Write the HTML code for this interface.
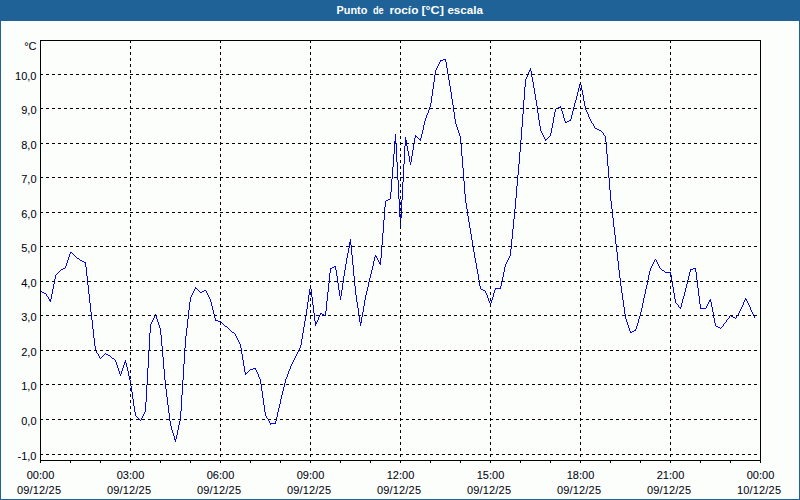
<!DOCTYPE html>
<html><head><meta charset="utf-8"><title>Punto de rocío</title>
<style>
html,body{margin:0;padding:0;}
body{width:800px;height:500px;overflow:hidden;background:#1E6298;font-family:"Liberation Sans",sans-serif;}
#panel{position:absolute;left:1px;top:21px;width:798px;height:478px;background:#FCFEFB;}
svg{position:absolute;left:0;top:0;}
text{font-family:"Liberation Sans",sans-serif;font-size:11px;fill:#000010;stroke:#000010;stroke-width:0.05px;}
.t{font-weight:bold;fill:#fff;stroke:none;}
</style></head><body>
<div id="panel"></div>
<svg width="800" height="500" viewBox="0 0 800 500">
<text class="t" x="336.6" y="14" textLength="30.8" lengthAdjust="spacingAndGlyphs">Punto</text>
<text class="t" x="372.9" y="14" textLength="10.7" lengthAdjust="spacingAndGlyphs">de</text>
<text class="t" x="389.4" y="14" textLength="29" lengthAdjust="spacingAndGlyphs">rocío</text>
<text class="t" x="421.4" y="14" textLength="22.5" lengthAdjust="spacingAndGlyphs">[°C]</text>
<text class="t" x="447.4" y="14" textLength="35.5" lengthAdjust="spacingAndGlyphs">escala</text>
<path d="M40 291h1v1h-1zM41 291h1v1h-1zM42 292h1v1h-1zM43 292h1v1h-1zM44 293h1v1h-1zM45 293h1v1h-1zM46 294h1v2h-1zM47 296h1v1h-1zM48 297h1v2h-1zM49 299h1v2h-1zM50 299h1v3h-1zM51 294h1v5h-1zM52 289h1v5h-1zM53 284h1v5h-1zM54 279h1v5h-1zM55 275h1v4h-1zM56 274h1v1h-1zM57 273h1v1h-1zM58 272h1v1h-1zM59 271h1v1h-1zM60 270h1v1h-1zM61 269h1v1h-1zM62 269h1v1h-1zM63 268h1v1h-1zM64 268h1v1h-1zM65 266h1v2h-1zM66 263h1v3h-1zM67 260h1v3h-1zM68 257h1v3h-1zM69 254h1v3h-1zM70 252h1v2h-1zM71 252h1v1h-1zM72 253h1v1h-1zM73 254h1v1h-1zM74 255h1v1h-1zM75 256h1v1h-1zM76 257h1v1h-1zM77 258h1v1h-1zM78 258h1v1h-1zM79 259h1v1h-1zM80 260h1v1h-1zM81 260h1v1h-1zM82 261h1v1h-1zM83 261h1v1h-1zM84 262h1v1h-1zM85 262h1v5h-1zM86 267h1v9h-1zM87 276h1v9h-1zM88 285h1v9h-1zM89 294h1v9h-1zM90 303h1v9h-1zM91 312h1v8h-1zM92 320h1v9h-1zM93 329h1v9h-1zM94 338h1v8h-1zM95 346h1v5h-1zM96 351h1v2h-1zM97 353h1v1h-1zM98 354h1v2h-1zM99 356h1v2h-1zM100 358h1v1h-1zM101 357h1v1h-1zM102 356h1v1h-1zM103 355h1v1h-1zM104 354h1v1h-1zM105 353h1v1h-1zM106 354h1v1h-1zM107 354h1v1h-1zM108 355h1v1h-1zM109 355h1v1h-1zM110 356h1v1h-1zM111 357h1v1h-1zM112 358h1v1h-1zM113 358h1v1h-1zM114 359h1v1h-1zM115 360h1v2h-1zM116 362h1v3h-1zM117 365h1v3h-1zM118 368h1v3h-1zM119 371h1v3h-1zM120 374h1v2h-1zM121 371h1v3h-1zM122 368h1v3h-1zM123 365h1v3h-1zM124 362h1v3h-1zM125 360h1v3h-1zM126 363h1v4h-1zM127 367h1v4h-1zM128 371h1v5h-1zM129 376h1v4h-1zM130 380h1v6h-1zM131 386h1v6h-1zM132 392h1v7h-1zM133 399h1v7h-1zM134 406h1v6h-1zM135 412h1v4h-1zM136 416h1v1h-1zM137 417h1v1h-1zM138 418h1v1h-1zM139 419h1v1h-1zM140 420h1v1h-1zM141 418h1v2h-1zM142 416h1v2h-1zM143 414h1v2h-1zM144 412h1v2h-1zM145 402h1v10h-1zM146 385h1v17h-1zM147 368h1v17h-1zM148 350h1v18h-1zM149 333h1v17h-1zM150 324h1v9h-1zM151 322h1v2h-1zM152 320h1v2h-1zM153 318h1v2h-1zM154 316h1v2h-1zM155 314h1v2h-1zM156 316h1v3h-1zM157 319h1v3h-1zM158 322h1v3h-1zM159 325h1v3h-1zM160 328h1v7h-1zM161 335h1v11h-1zM162 346h1v11h-1zM163 357h1v12h-1zM164 369h1v11h-1zM165 380h1v9h-1zM166 389h1v8h-1zM167 397h1v8h-1zM168 405h1v8h-1zM169 413h1v8h-1zM170 421h1v5h-1zM171 426h1v4h-1zM172 430h1v3h-1zM173 433h1v3h-1zM174 436h1v4h-1zM175 439h1v3h-1zM176 435h1v4h-1zM177 430h1v5h-1zM178 425h1v5h-1zM179 421h1v4h-1zM180 411h1v10h-1zM181 395h1v16h-1zM182 380h1v15h-1zM183 364h1v16h-1zM184 348h1v16h-1zM185 336h1v12h-1zM186 328h1v8h-1zM187 319h1v9h-1zM188 310h1v9h-1zM189 302h1v8h-1zM190 297h1v5h-1zM191 295h1v2h-1zM192 293h1v2h-1zM193 291h1v2h-1zM194 289h1v2h-1zM195 287h1v2h-1zM196 288h1v1h-1zM197 289h1v1h-1zM198 290h1v1h-1zM199 291h1v1h-1zM200 292h1v1h-1zM201 292h1v1h-1zM202 291h1v1h-1zM203 291h1v1h-1zM204 290h1v1h-1zM205 290h1v1h-1zM206 291h1v2h-1zM207 293h1v2h-1zM208 295h1v2h-1zM209 297h1v2h-1zM210 299h1v3h-1zM211 302h1v4h-1zM212 306h1v4h-1zM213 310h1v4h-1zM214 314h1v4h-1zM215 318h1v3h-1zM216 320h1v1h-1zM217 320h1v1h-1zM218 321h1v1h-1zM219 321h1v1h-1zM220 321h1v1h-1zM221 322h1v1h-1zM222 323h1v1h-1zM223 324h1v1h-1zM224 325h1v1h-1zM225 326h1v1h-1zM226 326h1v1h-1zM227 327h1v1h-1zM228 328h1v1h-1zM229 329h1v1h-1zM230 330h1v1h-1zM231 331h1v1h-1zM232 332h1v1h-1zM233 332h1v1h-1zM234 333h1v1h-1zM235 334h1v2h-1zM236 336h1v2h-1zM237 338h1v2h-1zM238 340h1v2h-1zM239 342h1v2h-1zM240 344h1v4h-1zM241 348h1v6h-1zM242 354h1v6h-1zM243 360h1v6h-1zM244 366h1v6h-1zM245 372h1v3h-1zM246 373h1v1h-1zM247 372h1v1h-1zM248 371h1v1h-1zM249 370h1v1h-1zM250 369h1v1h-1zM251 369h1v1h-1zM252 369h1v1h-1zM253 368h1v1h-1zM254 368h1v1h-1zM255 368h1v2h-1zM256 370h1v2h-1zM257 372h1v2h-1zM258 374h1v3h-1zM259 377h1v2h-1zM260 379h1v5h-1zM261 384h1v7h-1zM262 391h1v7h-1zM263 398h1v7h-1zM264 405h1v7h-1zM265 412h1v4h-1zM266 416h1v2h-1zM267 418h1v1h-1zM268 419h1v2h-1zM269 421h1v2h-1zM270 423h1v2h-1zM271 423h1v1h-1zM272 423h1v1h-1zM273 423h1v1h-1zM274 423h1v1h-1zM275 421h1v3h-1zM276 417h1v4h-1zM277 412h1v5h-1zM278 408h1v4h-1zM279 404h1v4h-1zM280 399h1v5h-1zM281 395h1v4h-1zM282 391h1v4h-1zM283 387h1v4h-1zM284 383h1v4h-1zM285 379h1v4h-1zM286 377h1v2h-1zM287 374h1v3h-1zM288 371h1v3h-1zM289 369h1v2h-1zM290 366h1v3h-1zM291 364h1v2h-1zM292 362h1v2h-1zM293 360h1v2h-1zM294 358h1v2h-1zM295 356h1v2h-1zM296 354h1v2h-1zM297 352h1v2h-1zM298 350h1v2h-1zM299 348h1v2h-1zM300 345h1v3h-1zM301 339h1v6h-1zM302 333h1v6h-1zM303 327h1v6h-1zM304 321h1v6h-1zM305 315h1v6h-1zM306 309h1v6h-1zM307 302h1v7h-1zM308 295h1v7h-1zM309 289h1v6h-1zM310 285h1v4h-1zM311 289h1v8h-1zM312 297h1v8h-1zM313 305h1v8h-1zM314 313h1v8h-1zM315 321h1v5h-1zM316 322h1v2h-1zM317 320h1v2h-1zM318 317h1v3h-1zM319 315h1v2h-1zM320 313h1v2h-1zM321 313h1v1h-1zM322 314h1v1h-1zM323 314h1v1h-1zM324 315h1v1h-1zM325 311h1v5h-1zM326 301h1v10h-1zM327 292h1v9h-1zM328 283h1v9h-1zM329 273h1v10h-1zM330 268h1v5h-1zM331 268h1v1h-1zM332 267h1v1h-1zM333 267h1v1h-1zM334 266h1v1h-1zM335 266h1v4h-1zM336 270h1v6h-1zM337 276h1v7h-1zM338 283h1v7h-1zM339 290h1v6h-1zM340 296h1v4h-1zM341 290h1v6h-1zM342 283h1v7h-1zM343 276h1v7h-1zM344 270h1v6h-1zM345 264h1v6h-1zM346 258h1v6h-1zM347 253h1v5h-1zM348 248h1v5h-1zM349 242h1v6h-1zM350 239h1v6h-1zM351 245h1v10h-1zM352 255h1v10h-1zM353 265h1v11h-1zM354 276h1v10h-1zM355 286h1v9h-1zM356 295h1v7h-1zM357 302h1v6h-1zM358 308h1v7h-1zM359 315h1v7h-1zM360 322h1v4h-1zM361 317h1v6h-1zM362 312h1v5h-1zM363 306h1v6h-1zM364 300h1v6h-1zM365 295h1v5h-1zM366 291h1v4h-1zM367 287h1v4h-1zM368 282h1v5h-1zM369 278h1v4h-1zM370 274h1v4h-1zM371 270h1v4h-1zM372 266h1v4h-1zM373 261h1v5h-1zM374 257h1v4h-1zM375 255h1v2h-1zM376 256h1v2h-1zM377 258h1v2h-1zM378 260h1v2h-1zM379 262h1v2h-1zM380 258h1v7h-1zM381 245h1v13h-1zM382 233h1v12h-1zM383 220h1v13h-1zM384 207h1v13h-1zM385 201h1v6h-1zM386 200h1v1h-1zM387 200h1v1h-1zM388 199h1v1h-1zM389 199h1v1h-1zM390 192h1v7h-1zM391 179h1v13h-1zM392 167h1v12h-1zM393 154h1v13h-1zM394 141h1v13h-1zM395 134h1v10h-1zM396 144h1v18h-1zM397 162h1v18h-1zM398 180h1v19h-1zM399 199h1v18h-1zM400 217h1v10h-1zM401 200h1v18h-1zM402 182h1v18h-1zM403 164h1v18h-1zM404 146h1v18h-1zM405 137h1v9h-1zM406 140h1v6h-1zM407 146h1v5h-1zM408 151h1v5h-1zM409 156h1v6h-1zM410 162h1v3h-1zM411 156h1v6h-1zM412 150h1v6h-1zM413 144h1v6h-1zM414 138h1v6h-1zM415 135h1v3h-1zM416 136h1v1h-1zM417 137h1v1h-1zM418 138h1v1h-1zM419 139h1v1h-1zM420 138h1v3h-1zM421 134h1v4h-1zM422 130h1v4h-1zM423 125h1v5h-1zM424 121h1v4h-1zM425 118h1v3h-1zM426 115h1v3h-1zM427 113h1v2h-1zM428 110h1v3h-1zM429 107h1v3h-1zM430 103h1v4h-1zM431 96h1v7h-1zM432 89h1v7h-1zM433 82h1v7h-1zM434 75h1v7h-1zM435 70h1v5h-1zM436 68h1v2h-1zM437 66h1v2h-1zM438 64h1v2h-1zM439 62h1v2h-1zM440 60h1v2h-1zM441 60h1v1h-1zM442 60h1v1h-1zM443 59h1v1h-1zM444 59h1v1h-1zM445 59h1v3h-1zM446 62h1v6h-1zM447 68h1v6h-1zM448 74h1v6h-1zM449 80h1v6h-1zM450 86h1v6h-1zM451 92h1v7h-1zM452 99h1v6h-1zM453 105h1v7h-1zM454 112h1v7h-1zM455 119h1v5h-1zM456 124h1v3h-1zM457 127h1v3h-1zM458 130h1v3h-1zM459 133h1v3h-1zM460 136h1v7h-1zM461 143h1v13h-1zM462 156h1v12h-1zM463 168h1v13h-1zM464 181h1v13h-1zM465 194h1v9h-1zM466 203h1v6h-1zM467 209h1v7h-1zM468 216h1v6h-1zM469 222h1v6h-1zM470 228h1v6h-1zM471 234h1v6h-1zM472 240h1v6h-1zM473 246h1v6h-1zM474 252h1v6h-1zM475 258h1v5h-1zM476 263h1v6h-1zM477 269h1v5h-1zM478 274h1v6h-1zM479 280h1v6h-1zM480 286h1v3h-1zM481 289h1v1h-1zM482 289h1v1h-1zM483 290h1v1h-1zM484 290h1v1h-1zM485 291h1v2h-1zM486 293h1v2h-1zM487 295h1v3h-1zM488 298h1v3h-1zM489 301h1v2h-1zM490 303h1v2h-1zM491 300h1v3h-1zM492 297h1v3h-1zM493 293h1v4h-1zM494 290h1v3h-1zM495 288h1v2h-1zM496 288h1v1h-1zM497 288h1v1h-1zM498 288h1v1h-1zM499 288h1v1h-1zM500 286h1v3h-1zM501 281h1v5h-1zM502 277h1v4h-1zM503 272h1v5h-1zM504 267h1v5h-1zM505 264h1v3h-1zM506 262h1v2h-1zM507 260h1v2h-1zM508 258h1v2h-1zM509 256h1v2h-1zM510 249h1v7h-1zM511 239h1v10h-1zM512 229h1v10h-1zM513 219h1v10h-1zM514 209h1v10h-1zM515 198h1v11h-1zM516 186h1v12h-1zM517 175h1v11h-1zM518 164h1v11h-1zM519 152h1v12h-1zM520 140h1v12h-1zM521 127h1v13h-1zM522 114h1v13h-1zM523 100h1v14h-1zM524 87h1v13h-1zM525 79h1v8h-1zM526 77h1v2h-1zM527 75h1v2h-1zM528 72h1v3h-1zM529 70h1v2h-1zM530 68h1v3h-1zM531 71h1v6h-1zM532 77h1v5h-1zM533 82h1v6h-1zM534 88h1v6h-1zM535 94h1v6h-1zM536 100h1v6h-1zM537 106h1v7h-1zM538 113h1v7h-1zM539 120h1v6h-1zM540 126h1v5h-1zM541 131h1v2h-1zM542 133h1v2h-1zM543 135h1v2h-1zM544 137h1v2h-1zM545 139h1v2h-1zM546 139h1v1h-1zM547 138h1v1h-1zM548 137h1v1h-1zM549 136h1v1h-1zM550 133h1v3h-1zM551 128h1v5h-1zM552 123h1v5h-1zM553 117h1v6h-1zM554 112h1v5h-1zM555 109h1v3h-1zM556 108h1v1h-1zM557 108h1v1h-1zM558 107h1v1h-1zM559 107h1v1h-1zM560 106h1v2h-1zM561 108h1v3h-1zM562 111h1v3h-1zM563 114h1v4h-1zM564 118h1v3h-1zM565 121h1v2h-1zM566 122h1v1h-1zM567 121h1v1h-1zM568 121h1v1h-1zM569 120h1v1h-1zM570 119h1v2h-1zM571 115h1v4h-1zM572 111h1v4h-1zM573 107h1v4h-1zM574 103h1v4h-1zM575 100h1v3h-1zM576 96h1v4h-1zM577 92h1v4h-1zM578 88h1v4h-1zM579 84h1v4h-1zM580 82h1v3h-1zM581 85h1v5h-1zM582 90h1v5h-1zM583 95h1v6h-1zM584 101h1v5h-1zM585 106h1v4h-1zM586 110h1v2h-1zM587 112h1v2h-1zM588 114h1v3h-1zM589 117h1v2h-1zM590 119h1v2h-1zM591 121h1v2h-1zM592 123h1v1h-1zM593 124h1v2h-1zM594 126h1v2h-1zM595 128h1v1h-1zM596 128h1v1h-1zM597 129h1v1h-1zM598 129h1v1h-1zM599 130h1v1h-1zM600 130h1v1h-1zM601 131h1v1h-1zM602 132h1v1h-1zM603 133h1v2h-1zM604 135h1v1h-1zM605 136h1v6h-1zM606 142h1v12h-1zM607 154h1v12h-1zM608 166h1v12h-1zM609 178h1v12h-1zM610 190h1v11h-1zM611 201h1v8h-1zM612 209h1v9h-1zM613 218h1v9h-1zM614 227h1v8h-1zM615 235h1v9h-1zM616 244h1v8h-1zM617 252h1v9h-1zM618 261h1v9h-1zM619 270h1v8h-1zM620 278h1v8h-1zM621 286h1v7h-1zM622 293h1v7h-1zM623 300h1v7h-1zM624 307h1v7h-1zM625 314h1v5h-1zM626 319h1v3h-1zM627 322h1v3h-1zM628 325h1v3h-1zM629 328h1v3h-1zM630 331h1v2h-1zM631 332h1v1h-1zM632 331h1v1h-1zM633 331h1v1h-1zM634 330h1v1h-1zM635 329h1v2h-1zM636 326h1v3h-1zM637 323h1v3h-1zM638 319h1v4h-1zM639 316h1v3h-1zM640 312h1v4h-1zM641 308h1v4h-1zM642 303h1v5h-1zM643 298h1v5h-1zM644 294h1v4h-1zM645 289h1v5h-1zM646 285h1v4h-1zM647 280h1v5h-1zM648 275h1v5h-1zM649 271h1v4h-1zM650 268h1v3h-1zM651 266h1v2h-1zM652 264h1v2h-1zM653 262h1v2h-1zM654 260h1v2h-1zM655 259h1v1h-1zM656 260h1v2h-1zM657 262h1v2h-1zM658 264h1v2h-1zM659 266h1v2h-1zM660 268h1v1h-1zM661 269h1v1h-1zM662 270h1v1h-1zM663 270h1v1h-1zM664 271h1v1h-1zM665 272h1v1h-1zM666 272h1v1h-1zM667 272h1v1h-1zM668 272h1v1h-1zM669 272h1v1h-1zM670 272h1v3h-1zM671 275h1v6h-1zM672 281h1v6h-1zM673 287h1v6h-1zM674 293h1v6h-1zM675 299h1v4h-1zM676 303h1v1h-1zM677 304h1v1h-1zM678 305h1v2h-1zM679 307h1v1h-1zM680 307h1v2h-1zM681 303h1v4h-1zM682 299h1v4h-1zM683 296h1v3h-1zM684 292h1v4h-1zM685 288h1v4h-1zM686 284h1v4h-1zM687 280h1v4h-1zM688 276h1v4h-1zM689 272h1v4h-1zM690 269h1v3h-1zM691 269h1v1h-1zM692 269h1v1h-1zM693 268h1v1h-1zM694 268h1v1h-1zM695 268h1v4h-1zM696 272h1v8h-1zM697 280h1v8h-1zM698 288h1v8h-1zM699 296h1v8h-1zM700 304h1v5h-1zM701 308h1v1h-1zM702 308h1v1h-1zM703 308h1v1h-1zM704 308h1v1h-1zM705 308h1v1h-1zM706 306h1v2h-1zM707 304h1v2h-1zM708 302h1v2h-1zM709 300h1v2h-1zM710 299h1v3h-1zM711 302h1v5h-1zM712 307h1v5h-1zM713 312h1v6h-1zM714 318h1v5h-1zM715 323h1v3h-1zM716 326h1v1h-1zM717 326h1v1h-1zM718 327h1v1h-1zM719 327h1v1h-1zM720 328h1v1h-1zM721 327h1v1h-1zM722 326h1v1h-1zM723 324h1v2h-1zM724 323h1v1h-1zM725 322h1v1h-1zM726 320h1v2h-1zM727 319h1v1h-1zM728 318h1v1h-1zM729 316h1v2h-1zM730 315h1v1h-1zM731 316h1v1h-1zM732 316h1v1h-1zM733 317h1v1h-1zM734 317h1v1h-1zM735 318h1v1h-1zM736 316h1v2h-1zM737 315h1v1h-1zM738 313h1v2h-1zM739 311h1v2h-1zM740 309h1v2h-1zM741 307h1v2h-1zM742 305h1v2h-1zM743 302h1v3h-1zM744 300h1v2h-1zM745 298h1v2h-1zM746 299h1v2h-1zM747 301h1v2h-1zM748 303h1v2h-1zM749 305h1v2h-1zM750 307h1v3h-1zM751 310h1v2h-1zM752 312h1v2h-1zM753 314h1v2h-1zM754 316h1v2h-1z" fill="#0000FF" shape-rendering="crispEdges"/>
<g stroke="#000" stroke-width="1" shape-rendering="crispEdges" stroke-dasharray="3 3">
<line x1="40" y1="74.5" x2="761" y2="74.5"/>
<line x1="40" y1="108.5" x2="761" y2="108.5"/>
<line x1="40" y1="143.5" x2="761" y2="143.5"/>
<line x1="40" y1="177.5" x2="761" y2="177.5"/>
<line x1="40" y1="212.5" x2="761" y2="212.5"/>
<line x1="40" y1="246.5" x2="761" y2="246.5"/>
<line x1="40" y1="281.5" x2="761" y2="281.5"/>
<line x1="40" y1="315.5" x2="761" y2="315.5"/>
<line x1="40" y1="350.5" x2="761" y2="350.5"/>
<line x1="40" y1="384.5" x2="761" y2="384.5"/>
<line x1="40" y1="419.5" x2="761" y2="419.5"/>
<line x1="40" y1="454.5" x2="761" y2="454.5"/>
<line x1="130.5" y1="40" x2="130.5" y2="461"/>
<line x1="220.5" y1="40" x2="220.5" y2="461"/>
<line x1="310.5" y1="40" x2="310.5" y2="461"/>
<line x1="400.5" y1="40" x2="400.5" y2="461"/>
<line x1="490.5" y1="40" x2="490.5" y2="461"/>
<line x1="580.5" y1="40" x2="580.5" y2="461"/>
<line x1="670.5" y1="40" x2="670.5" y2="461"/>
</g>
<g stroke="#000" stroke-width="1" shape-rendering="crispEdges" fill="none">
<rect x="40.5" y="40.5" width="720" height="420"/>
<line x1="40.5" y1="461" x2="40.5" y2="463"/>
<line x1="70.5" y1="461" x2="70.5" y2="463"/>
<line x1="100.5" y1="461" x2="100.5" y2="463"/>
<line x1="130.5" y1="461" x2="130.5" y2="463"/>
<line x1="160.5" y1="461" x2="160.5" y2="463"/>
<line x1="190.5" y1="461" x2="190.5" y2="463"/>
<line x1="220.5" y1="461" x2="220.5" y2="463"/>
<line x1="250.5" y1="461" x2="250.5" y2="463"/>
<line x1="280.5" y1="461" x2="280.5" y2="463"/>
<line x1="310.5" y1="461" x2="310.5" y2="463"/>
<line x1="340.5" y1="461" x2="340.5" y2="463"/>
<line x1="370.5" y1="461" x2="370.5" y2="463"/>
<line x1="400.5" y1="461" x2="400.5" y2="463"/>
<line x1="430.5" y1="461" x2="430.5" y2="463"/>
<line x1="460.5" y1="461" x2="460.5" y2="463"/>
<line x1="490.5" y1="461" x2="490.5" y2="463"/>
<line x1="520.5" y1="461" x2="520.5" y2="463"/>
<line x1="550.5" y1="461" x2="550.5" y2="463"/>
<line x1="580.5" y1="461" x2="580.5" y2="463"/>
<line x1="610.5" y1="461" x2="610.5" y2="463"/>
<line x1="640.5" y1="461" x2="640.5" y2="463"/>
<line x1="670.5" y1="461" x2="670.5" y2="463"/>
<line x1="700.5" y1="461" x2="700.5" y2="463"/>
<line x1="730.5" y1="461" x2="730.5" y2="463"/>
<line x1="760.5" y1="461" x2="760.5" y2="463"/>
</g>
<text x="36.5" y="50" text-anchor="end">°C</text>
<text x="36.5" y="80" text-anchor="end">10,0</text>
<text x="36.5" y="114" text-anchor="end">9,0</text>
<text x="36.5" y="149" text-anchor="end">8,0</text>
<text x="36.5" y="183" text-anchor="end">7,0</text>
<text x="36.5" y="218" text-anchor="end">6,0</text>
<text x="36.5" y="252" text-anchor="end">5,0</text>
<text x="36.5" y="287" text-anchor="end">4,0</text>
<text x="36.5" y="321" text-anchor="end">3,0</text>
<text x="36.5" y="356" text-anchor="end">2,0</text>
<text x="36.5" y="390" text-anchor="end">1,0</text>
<text x="36.5" y="425" text-anchor="end">0,0</text>
<text x="36.5" y="460" text-anchor="end">-1,0</text>
<text x="40.5" y="479" text-anchor="middle">00:00</text>
<text x="39" y="494" text-anchor="middle" textLength="44" lengthAdjust="spacing">09/12/25</text>
<text x="130.5" y="479" text-anchor="middle">03:00</text>
<text x="129" y="494" text-anchor="middle" textLength="44" lengthAdjust="spacing">09/12/25</text>
<text x="220.5" y="479" text-anchor="middle">06:00</text>
<text x="219" y="494" text-anchor="middle" textLength="44" lengthAdjust="spacing">09/12/25</text>
<text x="310.5" y="479" text-anchor="middle">09:00</text>
<text x="309" y="494" text-anchor="middle" textLength="44" lengthAdjust="spacing">09/12/25</text>
<text x="400.5" y="479" text-anchor="middle">12:00</text>
<text x="399" y="494" text-anchor="middle" textLength="44" lengthAdjust="spacing">09/12/25</text>
<text x="490.5" y="479" text-anchor="middle">15:00</text>
<text x="489" y="494" text-anchor="middle" textLength="44" lengthAdjust="spacing">09/12/25</text>
<text x="580.5" y="479" text-anchor="middle">18:00</text>
<text x="579" y="494" text-anchor="middle" textLength="44" lengthAdjust="spacing">09/12/25</text>
<text x="670.5" y="479" text-anchor="middle">21:00</text>
<text x="669" y="494" text-anchor="middle" textLength="44" lengthAdjust="spacing">09/12/25</text>
<text x="760.5" y="479" text-anchor="middle">00:00</text>
<text x="759" y="494" text-anchor="middle" textLength="44" lengthAdjust="spacing">10/12/25</text>
</svg></body></html>
